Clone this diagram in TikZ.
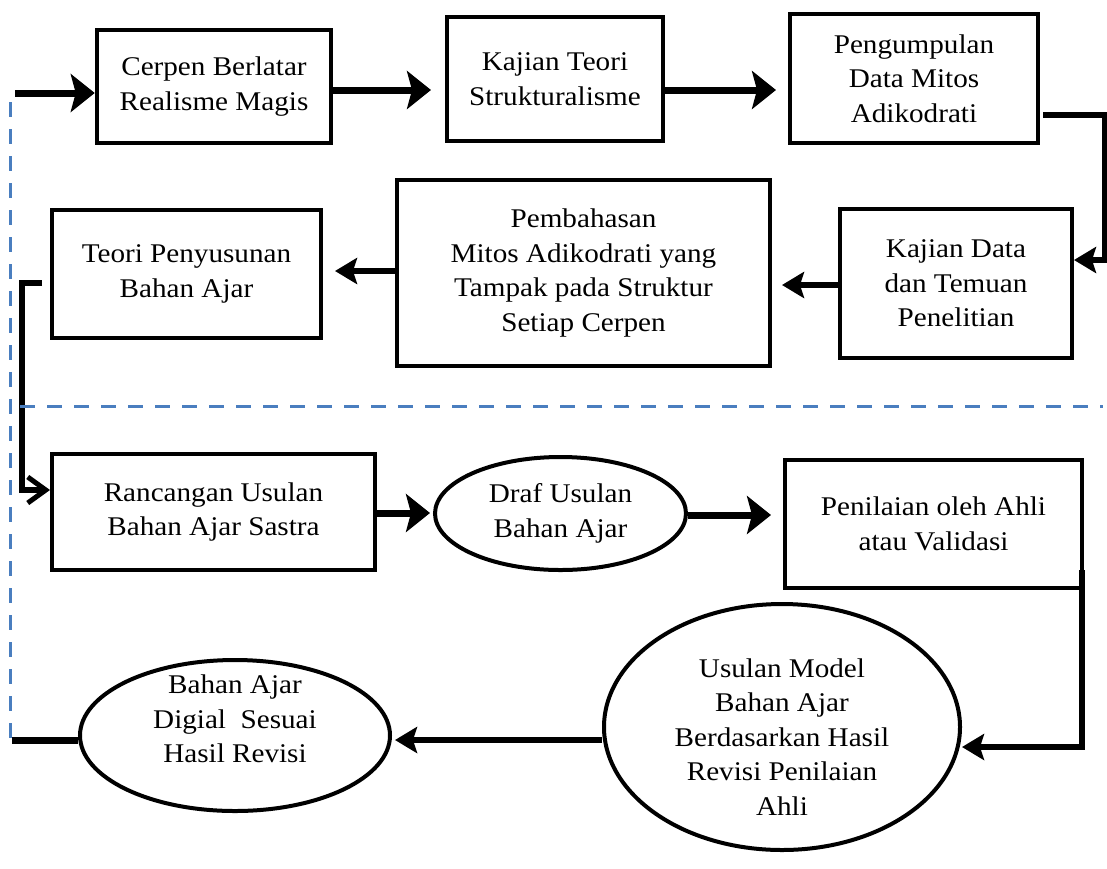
\documentclass[tikz,border=0pt]{standalone}
\usepackage{fontspec}
\setmainfont[FakeStretch=1.08]{Liberation Serif}
\usetikzlibrary{arrows.meta,shapes.geometric,calc}
\definecolor{dashblue}{HTML}{4A7EBF}
\begin{document}
\begin{tikzpicture}[x=1pt,y=-1pt,
  every node/.style={font=\fontsize{27}{34.5}\selectfont, align=center, inner sep=0pt},
  box/.style={draw, line width=4.5pt, rectangle},
  oval/.style={draw, line width=4pt, ellipse},
  bigarr/.style={line width=7pt, -{Stealth[length=24pt,width=38pt,inset=5pt]}},
  smallarr/.style={line width=6pt, -{Stealth[length=22pt,width=26pt,inset=4pt]}},
  openarr/.style={line width=6pt, -{Straight Barb[length=18pt,width=26pt,line width=5pt]}},
  conn/.style={line width=7pt},
  guide/.style={dashblue, line width=3pt, dash pattern=on 15pt off 12pt}
]
\useasboundingbox (0,0) rectangle (1107,868);

% nodes
\node[box, minimum width=234, minimum height=113] (b1) at (214,86.5) {Cerpen Berlatar\\Realisme Magis};
\node[box, minimum width=216, minimum height=124] (b2) at (555,79) {Kajian Teori\\Strukturalisme};
\node[box, minimum width=248, minimum height=129] (b3) at (914,78.5) {Pengumpulan\\Data Mitos\\Adikodrati};
\node[box, minimum width=232, minimum height=149] (b4) at (956,283.5) {Kajian Data\\dan Temuan\\Penelitian};
\node[box, minimum width=373, minimum height=186] (b5) at (583.5,273) {Pembahasan\\Mitos Adikodrati yang\\Tampak pada Struktur\\Setiap Cerpen};
\node[box, minimum width=269, minimum height=128] (b6) at (186.5,274) {Teori Penyusunan\\Bahan Ajar};
\node[box, minimum width=323, minimum height=116] (b7) at (213.5,512) {Rancangan Usulan\\Bahan Ajar Sastra};
\node[oval, minimum width=251, minimum height=113] (e8) at (560.5,513.5) {Draf Usulan\\Bahan Ajar};
\node[box, minimum width=297, minimum height=128] (b9) at (933.5,524) {Penilaian oleh Ahli\\atau Validasi};
\node[oval, minimum width=356, minimum height=246] (e10) at (782,727) {};
\node (e10t) at (782,737) {Usulan Model\\Bahan Ajar\\Berdasarkan Hasil\\Revisi Penilaian\\Ahli};
\node[oval, minimum width=310, minimum height=151] (e11) at (235,735.5) {};
\node (e11t) at (235,719) {Bahan Ajar\\Digial\ \ Sesuai\\Hasil Revisi};

% connector coordinates
\coordinate (pin) at (15,93);
\coordinate (t12) at (431,90);
\coordinate (t23) at (776,90);
\coordinate (s34) at (1043,115);
\coordinate (k34) at (1105,115);
\coordinate (t34) at (1074,260);
\coordinate (t45) at (782,285);
\coordinate (t56) at (335,271);
\coordinate (s67) at (42,283);
\coordinate (k67) at (22,283);
\coordinate (t67) at (50,490);
\coordinate (t78) at (430,513);
\coordinate (t89) at (771,515);
\coordinate (s910) at (1082,570);
\coordinate (t910) at (962,747);
\coordinate (t1011) at (395,740);
\coordinate (pend) at (12,740);

% connectors
\draw[bigarr] (pin) -- (pin -| b1.west);
\draw[bigarr] (t12 -| b1.east) -- (t12);
\draw[bigarr] (t23 -| b2.east) -- (t23);
\draw[smallarr] (s34) -- (k34) |- (t34);
\draw[smallarr] (t45 -| b4.west) -- (t45);
\draw[smallarr] (t56 -| b5.west) -- (t56);
\draw[openarr] (s67) -- (k67) |- (t67);
\draw[bigarr] (t78 -| b7.east) -- (t78);
\draw[bigarr] (t89 -| e8.east) -- (t89);
\draw[smallarr] (s910) |- (t910);
\draw[smallarr] (t1011 -| e10.west) -- (t1011);
\draw[conn] (pend -| e11.west) -- (pend);

% dashed guides
\coordinate (d1) at (10,102);
\coordinate (d2) at (10,742);
\coordinate (h1) at (20,406);
\coordinate (h2) at (1103,406);
\draw[guide] (d1) -- (d2);
\draw[guide] (h1) -- (h2);
\end{tikzpicture}
\end{document}
